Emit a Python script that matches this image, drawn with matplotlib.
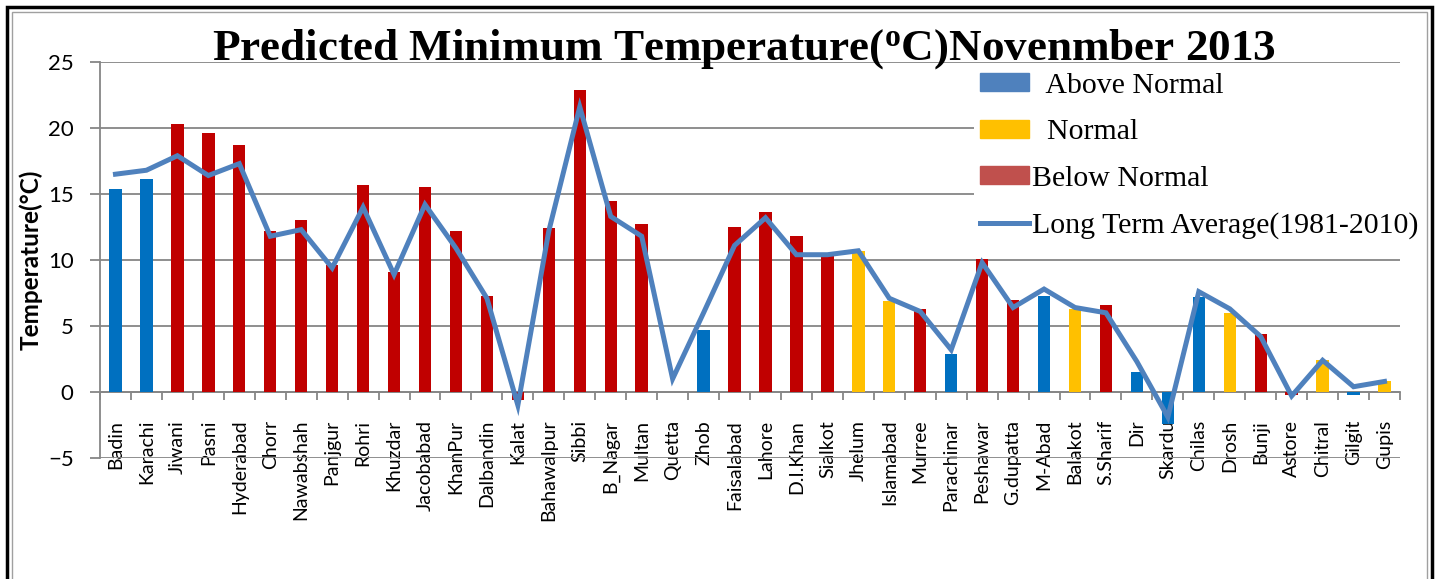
import numpy as np
import matplotlib
matplotlib.use("Agg")
import matplotlib.pyplot as plt
from matplotlib.patches import Patch, Rectangle
from matplotlib.lines import Line2D

# Stations, in the order shown on the chart
stations = ["Badin", "Karachi", "Jiwani", "Pasni", "Hyderabad", "Chorr", "Nawabshah",
            "Panjgur", "Rohri", "Khuzdar", "Jacobabad", "KhanPur", "Dalbandin", "Kalat",
            "Bahawalpur", "Sibbi", "B_Nagar", "Multan", "Quetta", "Zhob", "Faisalabad",
            "Lahore", "D.I.Khan", "Sialkot", "Jhelum", "Islamabad", "Murree", "Parachinar",
            "Peshawar", "G.dupatta", "M-Abad", "Balakot", "S.Sharif", "Dir", "Skardu",
            "Chilas", "Drosh", "Bunji", "Astore", "Chitral", "Gilgit", "Gupis"]

# Predicted minimum temperature (bars)
predicted = [15.4, 16.1, 20.3, 19.6, 18.7, 12.2, 13.0, 9.6, 15.7, 9.1, 15.5, 12.2,
             7.3, -0.6, 12.4, 22.9, 14.5, 12.7, 0.0, 4.7, 12.5, 13.6, 11.8, 10.3,
             10.7, 6.9, 6.3, 2.9, 10.1, 7.0, 7.3, 6.3, 6.6, 1.5, -2.4, 7.2, 6.0,
             4.4, -0.2, 2.4, -0.2, 0.8]

# Long term average 1981-2010 (line)
long_term = [16.5, 16.8, 17.9, 16.4, 17.3, 11.8, 12.3, 9.4, 14.0, 8.9, 14.2, 10.9,
             7.1, -1.0, 12.2, 21.6, 13.3, 11.8, 1.0, 6.0, 11.1, 13.2, 10.4, 10.4,
             10.7, 7.1, 6.1, 3.2, 9.8, 6.4, 7.8, 6.4, 6.0, 2.3, -1.9, 7.6, 6.3,
             4.2, -0.3, 2.4, 0.4, 0.8]

# A = above normal, N = normal, B = below normal
category = ["A", "A", "B", "B", "B", "B", "B", "B", "B", "B", "B", "B", "B", "B",
            "B", "B", "B", "B", "B", "A", "B", "B", "B", "B", "N", "N", "B", "A",
            "B", "B", "A", "N", "B", "A", "A", "A", "N", "B", "B", "N", "A", "N"]

bar_colours = {"A": "#0070C0", "N": "#FFC000", "B": "#C00000"}

W, H = 1439, 579


def main():
    fig = plt.figure(figsize=(W / 100, H / 100), dpi=100)
    ax = fig.add_axes([100 / W, 1 - 458 / H, 1300 / W, 396 / H])

    x = np.arange(len(stations))
    colours = [bar_colours[c] for c in category]
    ax.bar(x, predicted, width=0.4, color=colours, zorder=3)
    ax.plot(x, long_term, color="#4F81BD", lw=3.6, zorder=4, solid_joinstyle="miter")

    ax.set_xlim(-0.5, len(stations) - 0.5)
    ax.set_ylim(-5, 25)
    ax.set_yticks(np.arange(-5, 26, 5))
    ax.yaxis.grid(True, color="#868686", lw=1.3, zorder=0)

    # category axis crosses at zero, ticks between categories
    ax.spines["bottom"].set_position(("data", 0))
    for s in ["top", "right"]:
        ax.spines[s].set_visible(False)
    for s in ["left", "bottom"]:
        ax.spines[s].set_color("#868686")
        ax.spines[s].set_linewidth(1.3)
    ax.set_xticks(x)
    ax.set_xticks(np.arange(-0.5, len(stations), 1.0), minor=True)
    ax.set_xticklabels(stations, rotation=90, fontfamily="Lato", fontsize=14)
    ax.tick_params(axis="x", which="major", length=0, pad=20)
    ax.tick_params(axis="x", which="minor", length=6, color="#868686", width=1.3)
    ax.tick_params(axis="y", length=7, color="#868686", width=1.3, pad=12,
                   labelsize=16)
    for t in ax.get_yticklabels():
        t.set_fontfamily("Lato")

    ax.set_ylabel("Temperature(°C)", fontfamily="Lato", fontweight="bold",
                  fontsize=17.5)
    ax.yaxis.set_label_coords(-(100 - 43) / 1300, 0.5)

    fig.text(744 / W, 1 - 60 / H,
             r"Predicted Minimum Temperature($\mathregular{^o}$C)Novenmber 2013",
             ha="center", va="baseline", fontfamily="Liberation Serif",
             fontweight="bold", fontsize=32.5)

    handles = [Patch(color="#4F81BD"), Patch(color="#FFC000"), Patch(color="#C0504D"),
               Line2D([], [], color="#4F81BD", lw=3.6)]
    labels = ["  Above Normal", "  Normal", "Below Normal", "Long Term Average(1981-2010)"]
    leg = fig.legend(handles, labels, loc="upper left",
                     bbox_to_anchor=(974 / W, 1 - 67 / H), bbox_transform=fig.transFigure,
                     prop={"family": "Liberation Serif", "size": 21.5},
                     frameon=True, facecolor="white", edgecolor="none", framealpha=1,
                     handlelength=1.65, handleheight=0.55, handletextpad=0.1,
                     labelspacing=0.68, borderpad=0.2, borderaxespad=0)
    leg.set_zorder(5)

    # chart frame
    fig.patches.append(Rectangle((7 / W, -0.05), 1425 / W, 1.05 - 7 / H,
                                 transform=fig.transFigure, fill=False,
                                 ec="black", lw=2.5))
    fig.patches.append(Rectangle((12 / W, -0.05), 1415 / W, 1.05 - 12 / H,
                                 transform=fig.transFigure, fill=False,
                                 ec="#A0A0A0", lw=1))

    fig.savefig("out.png", dpi=100)


if __name__ == "__main__":
    main()
